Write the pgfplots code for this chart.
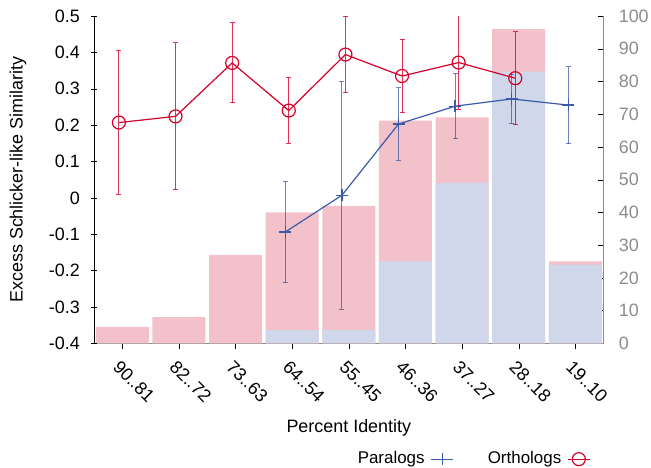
\documentclass[border=0pt]{standalone}
\usepackage{fontspec}
\setmainfont{Liberation Sans}
\usepackage{pgfplots}
\usepackage{pgfplotstable}
\pgfplotsset{compat=1.18}
\definecolor{ortho}{HTML}{D7002A}
\definecolor{para}{HTML}{3A5BAA}
\definecolor{pinkbar}{HTML}{F3C1CA}
\definecolor{bluebar}{HTML}{D0D7EA}
\definecolor{tickgray}{HTML}{8C8C8C}

\pgfplotstableread{
x total para
0 5 0
1 8 0
2 27 0
3 40 4
4 42 4
5 68 25
6 69 49
7 96 83
8 25 24
}\bars

\pgfplotstableread{
x y e
-0.06 0.207 0.197
0.94 0.224 0.202
1.94 0.371 0.110
2.94 0.240 0.090
3.94 0.394 0.105
4.94 0.335 0.101
5.94 0.372 0.129
6.94 0.329 0.128
}\ortho

\pgfplotstableread{
x y e
2.878 -0.094 0.139
3.878 0.007 0.313
4.878 0.203 0.100
5.878 0.252 0.090
6.878 0.272 0.068
7.878 0.255 0.106
}\para

\begin{document}
\fontsize{18}{21}\selectfont
\begin{tikzpicture}
\pgfplotsset{common/.style={
  scale only axis, width=509.6bp, height=327.3bp,
  xmin=-0.5, xmax=8.5,
  /pgf/number format/assume math mode=true,
  tick label style={font=\fontsize{18}{21}\selectfont},
  label style={font=\fontsize{18}{21}\selectfont},
  major tick length=6bp,
}}
\begin{axis}[common,
  axis y line*=right, axis x line*=bottom,
  axis line style={draw=tickgray, -},
  ymin=0, ymax=100, ytick={0,10,...,100},
  yticklabel style={text=tickgray, xshift=9bp},
  ytick style={black},
  y tick label style={anchor=west},
  xtick={0,...,8},
  xticklabels={90..81,82..72,73..63,64..54,55..45,46..36,37..27,28..18,19..10},
  x tick label style={rotate=-45, anchor=north west, xshift=0bp, yshift=-2bp},
  xtick style={black},
  xtick align=outside, ytick align=inside,
  xlabel={Percent Identity},
  every axis x label/.style={at={(rel axis cs:0.5,0)}, yshift=-85bp, anchor=center},
  ybar, bar width=53bp,
]
\addplot[fill=pinkbar, draw=none, bar shift=0pt] table[x=x, y=total] {\bars};
\addplot[fill=bluebar, draw=none, bar shift=0pt] table[x=x, y=para] {\bars};
\end{axis}
\begin{axis}[common,
  axis y line*=left, axis x line=none,
  ymin=-0.4, ymax=0.5,
  ytick={-0.4,-0.3,-0.2,-0.1,0,0.1,0.2,0.3,0.4,0.5},
  yticklabels={-0.4,-0.3,-0.2,-0.1,0,0.1,0.2,0.3,0.4,0.5},
  yticklabel style={xshift=-5bp},
  ytick style={black}, ytick align=center,
  ylabel={Excess Schlicker-like Similarity},
  every axis y label/.style={at={(rel axis cs:0,0.5)}, xshift=-76bp, rotate=90, anchor=center},
  legend plot pos=right,
  legend columns=2,
  legend style={draw=none, fill=none, at={(rel axis cs:0.74,-0.354)}, anchor=center,
    font=\fontsize{17}{20}\selectfont,
    /tikz/every even column/.append style={column sep=28bp},
    nodes={inner xsep=6bp}},
  legend image code/.code={\draw[mark repeat=2, mark phase=2, #1] plot coordinates {(0bp,0bp) (11bp,0bp) (22bp,0bp)};},
]
\coordinate (bl) at (rel axis cs:0,0);
\addplot[para, line width=1.2bp, mark=+, mark size=6bp, mark options={line width=1.3bp},
  error bars/.cd, y dir=both, y explicit,
  error bar style={para, opacity=0.75, line width=1bp},
  error mark options={rotate=90, mark size=2.5bp, line width=1bp}]
  table[x=x, y=y, y error=e] {\para};
\addlegendentry{Paralogs}
\addplot[ortho, line width=1.2bp, mark=o, mark size=6.5bp, mark options={line width=1.2bp},
  error bars/.cd, y dir=both, y explicit,
  error bar style={ortho, opacity=0.8, line width=1bp},
  error mark options={rotate=90, mark size=2.5bp, line width=1bp}]
  table[x=x, y=y, y error=e] {\ortho};
\addlegendentry{Orthologs}
\end{axis}
\pgfresetboundingbox
\path[use as bounding box] ([shift={(-94bp,-124.7bp)}]bl) rectangle ([shift={(557bp,343.3bp)}]bl);
\end{tikzpicture}
\end{document}
